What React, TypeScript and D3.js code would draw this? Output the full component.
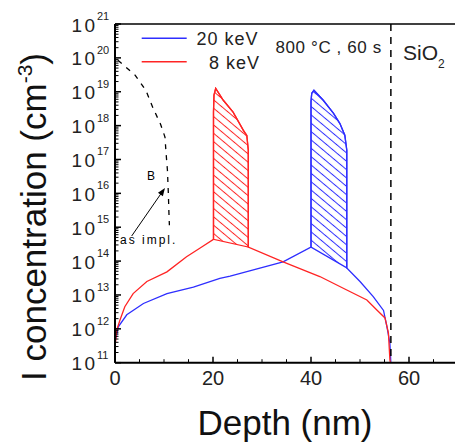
import React from "react";
import * as d3 from "d3";

// ---- data (depth in nm, concentration in cm^-3) ----
const blueDepth = [0.2, 0.67, 2.4, 5.8, 10.6, 16.0, 21.4, 23.5, 34.3, 40.0, 40.0, 40.15, 40.6, 42.5, 44.6, 45.9, 46.9, 47.3, 47.3, 50.0, 52.7, 54.8, 55.5, 56.1, 56.3];
const blueConc = [5.2e11, 1.15e12, 2.6e12, 5.6e12, 1.1e13, 1.7e13, 3.1e13, 3.6e13, 9.5e13, 2.6e14, 5.1e18, 9.0e18, 1.1e19, 5.6e18, 2.3e18, 1.15e18, 5.2e17, 1.9e17, 6.3e13, 2.5e13, 8.9e12, 3.5e12, 1.15e12, 3.8e11, 1.0e11];
const blueBox = [40.0, 47.3];

const redDepth = [0.1, 0.35, 1.0, 2.0, 3.7, 6.5, 10.6, 14.6, 17.3, 20.1, 20.1, 20.2, 20.55, 22.1, 24.1, 26.2, 26.9, 27.2, 27.2, 34.3, 41.8, 47.3, 51.4, 53.8, 55.1, 55.8, 56.1, 56.2];
const redConc = [3.8e11, 9.1e11, 1.8e12, 4.5e12, 1.1e13, 2.5e13, 4.8e13, 1.35e14, 2.4e14, 4.4e14, 2.5e18, 8.0e18, 1.26e19, 5.6e18, 2.5e18, 7.2e17, 5.1e17, 1.9e17, 2.6e14, 9.5e13, 3.5e13, 1.4e13, 7.1e12, 3.2e12, 2.1e12, 7.6e11, 1.2e11, 1.0e11];
const redBox = [20.1, 27.2];

const boronDepth = [0.6, 4.1, 6.3, 7.8, 9.3, 10.2, 10.4, 10.7, 10.9, 11.0, 11.1];
const boronConc = [8.5e19, 3.1e19, 1.1e19, 3.2e18, 1.1e18, 4.6e17, 1.7e17, 4.8e16, 8.9e15, 2.8e15, 1.15e15];

const arrowFrom = [3.4, 5.5e14];
const arrowTo = [10.2, 1.45e16];
const interfaceDepth = 56.3;

const xTicks = [0, 20, 40, 60];
const xMinor = [5, 10, 15, 25, 30, 35, 45, 50, 55, 65];
const yExp = [11, 12, 13, 14, 15, 16, 17, 18, 19, 20, 21];

const legendLabels = ["20 keV", "8 keV"];
const annealLabel = "800 °C , 60 s";

const BLUE = "#2e2eff";
const RED = "#ff2424";

export default function App() {
  const x = d3.scaleLinear().domain([0, 70]).range([115, 458]);
  const y = d3.scaleLog().domain([1e11, 1e21]).range([362.7, 24]);
  const X0 = 115, X1 = 455, Y0 = 362.7, Y1 = 24;

  const line = d3
    .line<[number, number]>()
    .x((p) => x(p[0]))
    .y((p) => y(p[1]));

  const zip = (a: number[], b: number[]) => a.map((v, i) => [v, b[i]] as [number, number]);
  const blue = zip(blueDepth, blueConc);
  const red = zip(redDepth, redConc);
  const boron = zip(boronDepth, boronConc);
  const boxPts = (pts: [number, number][], box: number[]) =>
    pts.filter((p) => p[0] >= box[0] && p[0] <= box[1]);

  const minorY: number[] = [];
  for (let e = 11; e < 21; e++) for (let m = 2; m <= 9; m++) minorY.push(m * Math.pow(10, e));

  const font = "'Liberation Sans', Arial, sans-serif";

  const ax = x(arrowFrom[0]), ay = y(arrowFrom[1]);
  const bx = x(arrowTo[0]), by = y(arrowTo[1]);
  const ang = Math.atan2(by - ay, bx - ax);
  const hl = 8, hw = 3;
  const head = [
    [bx, by],
    [bx - hl * Math.cos(ang) + hw * Math.sin(ang), by - hl * Math.sin(ang) - hw * Math.cos(ang)],
    [bx - hl * Math.cos(ang) - hw * Math.sin(ang), by - hl * Math.sin(ang) + hw * Math.cos(ang)],
  ];

  return (
    <svg
      width={455}
      height={442}
      style={{ position: "absolute", left: 0, top: 0, background: "#fff" }}
      fontFamily={font}
    >
      <defs>
        <clipPath id="plot">
          <rect x={X0} y={Y1} width={X1 - X0} height={Y0 - Y1} />
        </clipPath>
        <pattern id="hatchRed" patternUnits="userSpaceOnUse" width={10} height={6.4} patternTransform="rotate(40)">
          <line x1={0} y1={3.2} x2={10} y2={3.2} stroke={RED} strokeWidth={1} />
        </pattern>
        <pattern id="hatchBlue" patternUnits="userSpaceOnUse" width={10} height={6.4} patternTransform="rotate(40)">
          <line x1={0} y1={3.2} x2={10} y2={3.2} stroke={BLUE} strokeWidth={1} />
        </pattern>
      </defs>

      <g clipPath="url(#plot)">
        <path d={line(boxPts(blue, blueBox))! + "Z"} fill="url(#hatchBlue)" stroke={BLUE} strokeWidth={1.3} />
        <path d={line(blue)!} fill="none" stroke={BLUE} strokeWidth={1.3} />
        <path d={line(boxPts(red, redBox))! + "Z"} fill="url(#hatchRed)" stroke={RED} strokeWidth={1.3} />
        <path d={line(red)!} fill="none" stroke={RED} strokeWidth={1.3} />
        <path d={line(boron)!} fill="none" stroke="#000" strokeWidth={1.3} strokeDasharray="5,6" />
        <line x1={x(interfaceDepth)} x2={x(interfaceDepth)} y1={Y1} y2={Y0} stroke="#000" strokeWidth={1.5} strokeDasharray="7,6" />
      </g>

      {/* arrow */}
      <line x1={ax} y1={ay} x2={bx - 6 * Math.cos(ang)} y2={by - 6 * Math.sin(ang)} stroke="#000" strokeWidth={1} />
      <polygon points={head.map((p) => p.join(",")).join(" ")} fill="#000" />
      <text x={151} y={179.5} fontSize={12} textAnchor="middle">B</text>
      <text x={120} y={243.5} fontSize={12} letterSpacing={2}>as impl.</text>

      {/* axes */}
      <line x1={X0} x2={X0} y1={Y1} y2={Y0} stroke="#000" strokeWidth={2} />
      <line x1={X0} x2={X1} y1={Y0} y2={Y0} stroke="#000" strokeWidth={2} />
      <line x1={X0} x2={X1} y1={Y1} y2={Y1} stroke="#000" strokeWidth={1.5} />

      {yExp.map((e) => (
        <g key={"y" + e}>
          <line x1={X0} x2={X0 + 6} y1={y(Math.pow(10, e))} y2={y(Math.pow(10, e))} stroke="#000" strokeWidth={1.5} />
          <text x={71.5} y={y(Math.pow(10, e)) + 7.5} fontSize={19} letterSpacing={2.5} fill="#222">10</text>
          <text x={97} y={y(Math.pow(10, e)) - 4} fontSize={11} fill="#222">{e}</text>
        </g>
      ))}
      {minorY.map((v, i) => (
        <line key={"my" + i} x1={X0} x2={X0 + 3.5} y1={y(v)} y2={y(v)} stroke="#000" strokeWidth={1} />
      ))}
      {xTicks.map((t) => (
        <g key={"x" + t}>
          <line x1={x(t)} x2={x(t)} y1={Y0} y2={Y0 - 6} stroke="#000" strokeWidth={1.5} />
          <text x={x(t)} y={385} fontSize={20} textAnchor="middle" fill="#222">{t}</text>
        </g>
      ))}
      {xMinor.map((t) => (
        <line key={"mx" + t} x1={x(t)} x2={x(t)} y1={Y0} y2={Y0 - 3.5} stroke="#000" strokeWidth={1} />
      ))}

      {/* legend */}
      <line x1={141.7} x2={186.7} y1={38.3} y2={38.3} stroke={BLUE} strokeWidth={1.5} />
      <line x1={141.7} x2={186.7} y1={61.7} y2={61.7} stroke={RED} strokeWidth={1.5} />
      <text x={196.5} y={45} fontSize={18} letterSpacing={1} fill="#222">{legendLabels[0]}</text>
      <text x={260} y={69} fontSize={18} letterSpacing={1} textAnchor="end" fill="#222">{legendLabels[1]}</text>
      <text x={275.5} y={53.3} fontSize={17} letterSpacing={0.6} fill="#222">{annealLabel}</text>
      <text x={403} y={59.5} fontSize={21} fill="#222">
        SiO<tspan fontSize={12} dy={8}>2</tspan>
      </text>

      {/* axis titles */}
      <text x={285} y={435} fontSize={35} textAnchor="middle" fill="#111">Depth (nm)</text>
      <text transform="translate(46,217) rotate(-90)" fontSize={35} textAnchor="middle" fill="#111">
        I concentration (cm<tspan fontSize={21} dy={-14}>-3</tspan><tspan dy={14}>)</tspan>
      </text>
    </svg>
  );
}
